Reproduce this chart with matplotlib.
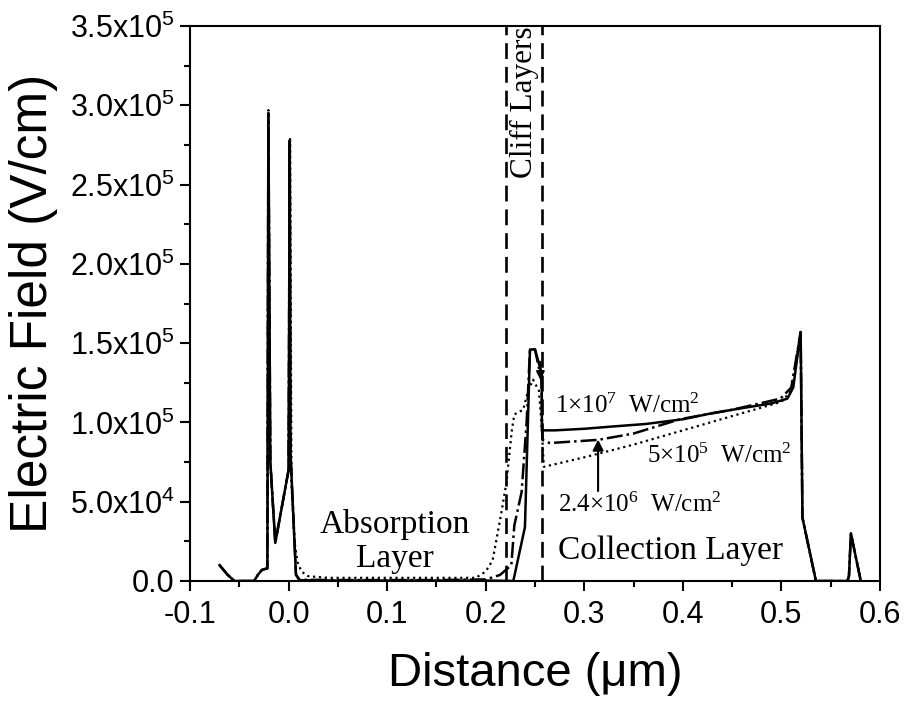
import matplotlib
matplotlib.use("Agg")
import matplotlib.pyplot as plt
from matplotlib.ticker import MultipleLocator, FixedLocator

# 1x10^7 W/cm2 (linha cheia)
x_1e7 = [-0.070, -0.062, -0.055, -0.035, -0.031, -0.027, -0.0215, -0.0205, -0.0185, -0.0135,
         0.0, 0.0012, 0.002, 0.0075, 0.011, 0.05, 0.10, 0.15, 0.20, 0.228, 0.2398, 0.2449,
         0.2500, 0.2568, 0.2570, 0.27, 0.30, 0.33, 0.362, 0.40, 0.431, 0.46, 0.49, 0.506,
         0.512, 0.5195, 0.5213, 0.535, 0.567, 0.5685, 0.5705, 0.5805]
y_1e7 = [1.0e4, 4.0e3, 0.0, 0.0, 4.0e3, 7.0e3, 8.0e3, 2.95e5, 7.5e4, 2.4e4,
         7.0e4, 2.78e5, 8.0e4, 4.0e3, 5.0e2, 3.0e2, 3.0e2, 3.0e2, 3.0e2, 0.0, 3.4e4, 1.46e5,
         1.46e5, 1.31e5, 9.5e4, 9.5e4, 9.6e4, 9.75e4, 9.9e4, 1.02e5, 1.06e5, 1.09e5, 1.12e5, 1.15e5,
         1.22e5, 1.57e5, 4.0e4, 0.0, 0.0, 3.0e3, 3.0e4, 0.0]

# 2.4x10^6 W/cm2 (traco-ponto)
x_24e6 = [-0.070, -0.062, -0.055, -0.035, -0.031, -0.027, -0.0215, -0.0205, -0.0185, -0.0135,
          0.0, 0.0012, 0.002, 0.0075, 0.011, 0.05, 0.10, 0.15, 0.20, 0.2145, 0.226, 0.229,
          0.2364, 0.2415, 0.2449, 0.2500, 0.2565, 0.2575, 0.265, 0.314, 0.35, 0.397, 0.45,
          0.499, 0.51, 0.5195, 0.5213, 0.535, 0.567, 0.5685, 0.5705, 0.5805]
y_24e6 = [1.0e4, 4.0e3, 0.0, 0.0, 4.0e3, 7.0e3, 8.0e3, 2.95e5, 7.5e4, 2.4e4,
          7.0e4, 2.78e5, 8.0e4, 4.0e3, 8.0e2, 6.0e2, 6.0e2, 6.0e2, 1.0e3, 3.8e3, 1.0e4, 3.5e4,
          5.6e4, 1.0e5, 1.46e5, 1.46e5, 1.27e5, 8.9e4, 8.7e4, 8.9e4, 9.3e4, 1.02e5, 1.08e5,
          1.15e5, 1.22e5, 1.57e5, 4.0e4, 0.0, 0.0, 3.0e3, 3.0e4, 0.0]

# 5x10^5 W/cm2 (pontilhada)
x_5e5 = [-0.070, -0.062, -0.055, -0.035, -0.031, -0.027, -0.0215, -0.0205, -0.0185, -0.0135,
         0.0, 0.0015, 0.003, 0.006, 0.009, 0.013, 0.02, 0.04, 0.10, 0.15, 0.19, 0.20, 0.207,
         0.215, 0.221, 0.2265, 0.229, 0.238, 0.243, 0.248, 0.254, 0.2565, 0.259, 0.30, 0.35,
         0.40, 0.45, 0.50, 0.51, 0.5195, 0.5213, 0.535, 0.567, 0.5685, 0.5705, 0.5805]
y_5e5 = [1.0e4, 4.0e3, 0.0, 0.0, 4.0e3, 7.0e3, 8.0e3, 2.97e5, 7.5e4, 2.4e4,
         7.0e4, 2.80e5, 6.0e4, 2.5e4, 1.2e4, 6.0e3, 3.0e3, 2.0e3, 2.0e3, 2.0e3, 2.0e3, 6.0e3, 1.3e4,
         4.0e4, 6.2e4, 9.5e4, 1.05e5, 1.08e5, 1.2e5, 1.27e5, 1.2e5, 1.0e5, 7.2e4, 7.8e4, 8.6e4,
         9.5e4, 1.04e5, 1.13e5, 1.2e5, 1.58e5, 4.0e4, 0.0, 0.0, 3.0e3, 3.0e4, 0.0]

cliff_lims = [0.221, 0.257]

x_ticks = [-0.1, 0.0, 0.1, 0.2, 0.3, 0.4, 0.5, 0.6]
y_ticks = [0, 0.5e5, 1.0e5, 1.5e5, 2.0e5, 2.5e5, 3.0e5, 3.5e5]
y_ticklabels = ["0.0", r"5.0x10$\mathregular{^4}$", r"1.0x10$\mathregular{^5}$",
                r"1.5x10$\mathregular{^5}$", r"2.0x10$\mathregular{^5}$",
                r"2.5x10$\mathregular{^5}$", r"3.0x10$\mathregular{^5}$",
                r"3.5x10$\mathregular{^5}$"]

plt.rcParams['font.family'] = ['Liberation Sans', 'DejaVu Sans']

fig = plt.figure(figsize=(9.08, 7.04), dpi=100)
ax = fig.add_axes([190 / 908, 1 - 581 / 704, 690 / 908, 555 / 704])

ax.plot(x_5e5, y_5e5, color='k', lw=1.6, ls=':')
ax.plot(x_24e6, y_24e6, color='k', lw=1.8, ls='-.')
ax.plot(x_1e7, y_1e7, color='k', lw=1.8, ls='-')

for xc in cliff_lims:
    ax.axvline(xc, color='k', lw=1.9, ls=(0, (6, 3)))

ax.set_xlim(-0.1, 0.6)
ax.set_ylim(0, 3.5e5)
ax.xaxis.set_major_locator(FixedLocator(x_ticks))
ax.xaxis.set_minor_locator(MultipleLocator(0.05))
ax.yaxis.set_major_locator(FixedLocator(y_ticks))
ax.yaxis.set_minor_locator(MultipleLocator(0.25e5))
ax.set_xticklabels([f"{v:.1f}" for v in x_ticks])
ax.set_yticklabels(y_ticklabels)

ax.tick_params(which='both', direction='out', width=1.5, top=False, right=False)
ax.tick_params(which='major', length=7, labelsize=22)
ax.tick_params(axis='x', which='major', pad=7)
ax.tick_params(axis='y', which='major', pad=4)
ax.tick_params(which='minor', length=4)
for s in ax.spines.values():
    s.set_linewidth(1.5)

ax.set_xlabel("Distance (μm)", fontsize=34)
ax.set_ylabel("Electric Field (V/cm)", fontsize=37)
ax.xaxis.set_label_coords(0.5, -0.128)
ax.yaxis.set_label_coords(-0.191, 0.5)

serif = ['Liberation Serif', 'DejaVu Serif']
ax.text(0.1075, 3.0e4, "Absorption", family=serif, fontsize=24, ha='center', va='baseline')
ax.text(0.1075, 8.8e3, "Layer", family=serif, fontsize=24, ha='center', va='baseline')
ax.text(0.2733, 1.39e4, "Collection Layer", family=serif, fontsize=24, ha='left', va='baseline')
ax.text(0.2395, 3.02e5, "Cliff Layers", family=serif, fontsize=22.5, rotation=90,
        ha='center', va='center')

ax.text(0.270, 1.06e5, r"1×10$\mathregular{^7}$  W/cm$\mathregular{^2}$", family=serif,
        fontsize=18, ha='left', va='baseline')
ax.text(0.3636, 7.44e4, r"5×10$\mathregular{^5}$  W/cm$\mathregular{^2}$", family=serif,
        fontsize=18, ha='left', va='baseline')
ax.text(0.2733, 4.35e4, r"2.4×10$\mathregular{^6}$  W/cm$\mathregular{^2}$", family=serif,
        fontsize=18, ha='left', va='baseline')

# setas
ax.annotate('', xy=(0.314, 9.1e4), xytext=(0.314, 5.5e4),
            arrowprops=dict(arrowstyle='-|>', color='k', lw=1.5, mutation_scale=16))
ax.annotate('', xy=(0.2555, 1.25e5), xytext=(0.2555, 1.40e5),
            arrowprops=dict(arrowstyle='-|>', color='k', lw=1.5, mutation_scale=12))

fig.savefig("out.png", dpi=100)
